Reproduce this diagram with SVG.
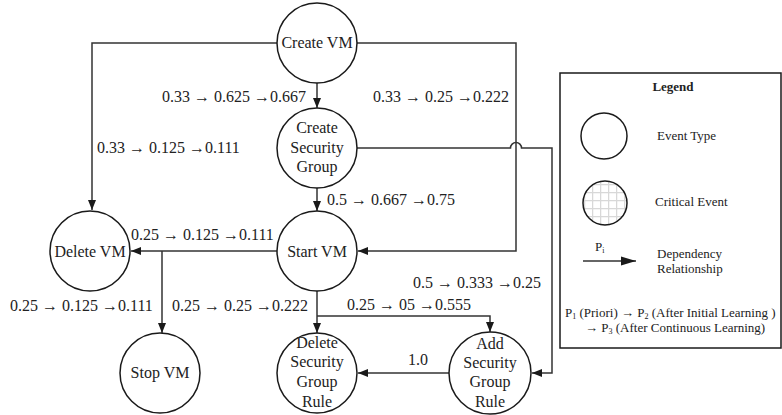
<svg xmlns="http://www.w3.org/2000/svg" width="782" height="415" viewBox="0 0 782 415">
<style>
.n{fill:#fff;stroke:#1a1a1a;stroke-width:1.5}
.c{fill:none;stroke:#333;stroke-width:1.5}
.t{font-family:"Liberation Serif","Times New Roman",serif;font-size:16px;fill:#222}
.m{text-anchor:middle}
.l{font-family:"Liberation Serif","Times New Roman",serif;font-size:13px;fill:#222}
</style>
<defs>
<marker id="a" markerUnits="userSpaceOnUse" markerWidth="10" markerHeight="10" viewBox="0 0 10 10" refX="10" refY="5" orient="auto">
<path d="M0,1 L10,5 L0,9 Z" fill="#1a1a1a"/>
</marker>
<marker id="b" markerUnits="userSpaceOnUse" markerWidth="15" markerHeight="10" viewBox="0 0 15 10" refX="15" refY="5" orient="auto">
<path d="M0,0.5 L15,5 L0,9.5 Z" fill="#1a1a1a"/>
</marker>
<pattern id="g" patternUnits="userSpaceOnUse" width="8" height="8" x="0" y="0">
<rect width="8" height="8" fill="#fff"/>
<path d="M0,0.5 H8 M0.5,0 V8" stroke="#d8d8d8" stroke-width="1.5"/>
</pattern>
</defs>

<g id="connectors">
<path class="c" d="M277,43 H92 V210" marker-end="url(#a)"/>
<path class="c" d="M357,43 H516 V251 H358" marker-end="url(#a)"/>
<path class="c" d="M317,83 V108" marker-end="url(#a)"/>
<path class="c" d="M357,148 H510.5 A5.5,5.5 0 0 1 521.5,148 H552 V373 H532" marker-end="url(#a)"/>
<path class="c" d="M317,188 V211" marker-end="url(#a)"/>
<path class="c" d="M277,251 H131" marker-end="url(#a)"/>
<path class="c" d="M162,251 V333" marker-end="url(#a)"/>
<path class="c" d="M317,291 V333" marker-end="url(#a)"/>
<path class="c" d="M317,316 H490 V332" marker-end="url(#a)"/>
<path class="c" d="M449,373 H358" marker-end="url(#a)"/>
</g>

<g id="labels" class="t">
<text x="162" y="102">0.33 → 0.625 →0.667</text>
<text x="97" y="153">0.33 → 0.125 →0.111</text>
<text x="373" y="102">0.33 → 0.25 →0.222</text>
<text x="327" y="205">0.5 → 0.667 →0.75</text>
<text x="131" y="240">0.25 → 0.125 →0.111</text>
<text x="10" y="311">0.25 → 0.125 →0.111</text>
<text x="172" y="311">0.25 → 0.25 →0.222</text>
<text x="347" y="310">0.25 → 05 →0.555</text>
<text x="413" y="288">0.5 → 0.333 →0.25</text>
<text x="408" y="365">1.0</text>
</g>

<g id="create-vm">
<circle class="n" cx="317" cy="43" r="40"/>
<text class="t m" x="317" y="48">Create VM</text>
</g>
<g id="create-security-group">
<circle class="n" cx="317" cy="148" r="40"/>
<text class="t m" x="317" y="133">Create</text>
<text class="t m" x="317" y="153">Security</text>
<text class="t m" x="317" y="172">Group</text>
</g>
<g id="start-vm">
<circle class="n" cx="317" cy="251" r="40"/>
<text class="t m" x="317" y="257">Start VM</text>
</g>
<g id="delete-vm">
<circle class="n" cx="90" cy="251" r="40"/>
<text class="t m" x="90" y="257">Delete VM</text>
</g>
<g id="stop-vm">
<circle class="n" cx="160" cy="373" r="40"/>
<text class="t m" x="160" y="378">Stop VM</text>
</g>
<g id="delete-security-group-rule">
<circle class="n" cx="317" cy="373" r="40"/>
<text class="t m" x="317" y="348">Delete</text>
<text class="t m" x="317" y="367">Security</text>
<text class="t m" x="317" y="387">Group</text>
<text class="t m" x="317" y="407">Rule</text>
</g>
<g id="add-security-group-rule">
<circle class="n" cx="490" cy="373" r="41"/>
<text class="t m" x="490" y="349">Add</text>
<text class="t m" x="490" y="368">Security</text>
<text class="t m" x="490" y="387">Group</text>
<text class="t m" x="490" y="407">Rule</text>
</g>

<g id="legend">
<rect x="560" y="73" width="221" height="275" fill="#fff" stroke="#1a1a1a" stroke-width="1.5"/>
<text class="l m" x="673" y="91" font-weight="bold">Legend</text>
<circle class="n" cx="604" cy="136" r="23"/>
<text class="l" x="657" y="140">Event Type</text>
<circle cx="605" cy="203" r="22" fill="url(#g)" stroke="#1a1a1a" stroke-width="1.5"/>
<text class="l" x="655" y="206">Critical Event</text>
<path class="c" d="M583,261 H636" marker-end="url(#b)"/>
<text class="l" x="595" y="251">P<tspan font-size="8" dy="2">i</tspan></text>
<text class="l" x="657" y="258">Dependency</text>
<text class="l" x="657" y="273">Relationship</text>
<text class="l" x="565" y="317">P<tspan font-size="8" dy="2">1</tspan><tspan dy="-2"> (Priori) → P</tspan><tspan font-size="8" dy="2">2</tspan><tspan dy="-2">  (After Initial Learning )</tspan></text>
<text class="l" x="585" y="332">→ P<tspan font-size="8" dy="2">3</tspan><tspan dy="-2"> (After Continuous Learning)</tspan></text>
</g>
</svg>
